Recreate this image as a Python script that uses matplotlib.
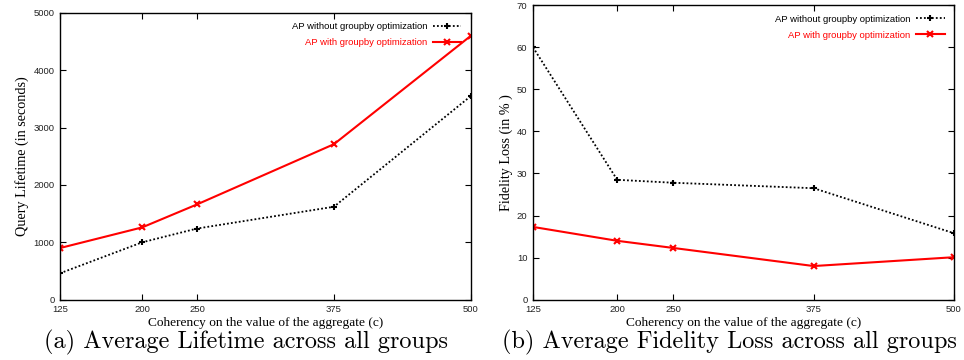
#!/usr/bin/env python3
"""AP lifetime and fidelity loss, with and without groupby optimization."""

import matplotlib
matplotlib.use("Agg")
import matplotlib.pyplot as plt

coherency = [125, 200, 250, 375, 500]

lifetime_without = [460, 1000, 1240, 1620, 3550]
lifetime_with = [900, 1260, 1660, 2710, 4600]

fidelity_without = [60.0, 28.5, 27.8, 26.5, 15.8]
fidelity_with = [17.3, 14.0, 12.3, 8.0, 10.1]

label_without = "AP without groupby optimization"
label_with = "AP with groupby optimization"
xlabel = "Coherency on the value of the aggregate (c)"

TICK_FONT = "Liberation Sans"
LABEL_FONT = "Liberation Serif"
CAPTION_FONT = "cmr10"


def draw(ax, y_without, y_with, ylim, yticks, ylabel):
    ax.plot(coherency, y_without, color="black", linestyle=(0, (1, 1.2)),
            linewidth=1.3, marker="+", markersize=4, markeredgewidth=1.5,
            label=label_without)
    ax.plot(coherency, y_with, color="#ff0000", linewidth=1.5,
            marker="x", markersize=4, markeredgewidth=1.5, label=label_with)
    ax.set_xlim(coherency[0], coherency[-1])
    ax.set_ylim(*ylim)
    ax.set_xticks(coherency)
    ax.set_yticks(yticks)
    ax.tick_params(direction="in", top=True, right=True, length=4,
                   width=0.8, labelsize=6.8, pad=4)
    for t in ax.get_xticklabels() + ax.get_yticklabels():
        t.set_fontfamily(TICK_FONT)
        t.set_color("#222222")
    for s in ax.spines.values():
        s.set_linewidth(1.0)
    ax.set_xlabel(xlabel, family=LABEL_FONT, fontsize=9.6, labelpad=2)
    ax.set_ylabel(ylabel, family=LABEL_FONT, fontsize=10.2, labelpad=3)
    ax.legend(loc="upper right", frameon=False, markerfirst=False,
              handlelength=3.0, handletextpad=0.6,
              labelspacing=0.75, borderaxespad=0.6,
              labelcolor=["black", "#ff0000"],
              prop={"family": TICK_FONT, "size": 6.8})


fig = plt.figure(figsize=(9.64, 3.6), dpi=100)
ax1 = fig.add_axes([0.0622, 0.1675, 0.4263, 0.797])
ax2 = fig.add_axes([0.5529, 0.1675, 0.4367, 0.818])

draw(ax1, lifetime_without, lifetime_with, (0, 5000),
     range(0, 5001, 1000), "Query Lifetime (in seconds)")
draw(ax2, fidelity_without, fidelity_with, (0, 70),
     range(0, 71, 10), "Fidelity Loss (in % )")

fig.text(246 / 964, 12 / 360, "(a) Average Lifetime across all groups",
         ha="center", va="baseline", family=CAPTION_FONT, fontsize=17.5)
fig.text(729 / 964, 12 / 360, "(b) Average Fidelity Loss across all groups",
         ha="center", va="baseline", family=CAPTION_FONT, fontsize=17.5)

fig.savefig("out.png", dpi=100)
